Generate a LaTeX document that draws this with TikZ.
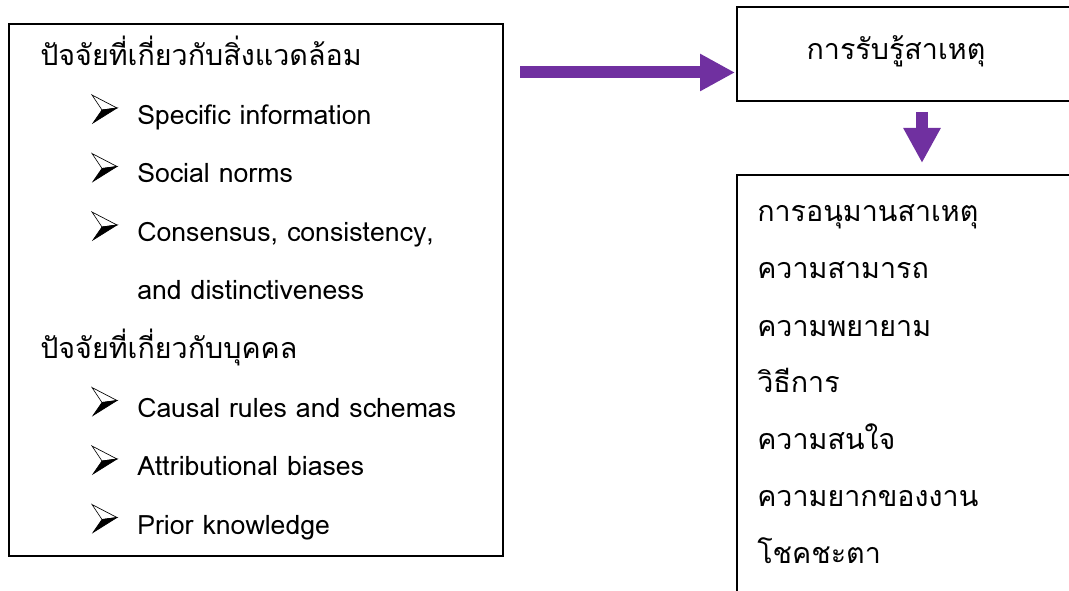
\documentclass[tikz,border=0pt]{standalone}
\usepackage{fontspec}
\setmainfont[Script=Thai]{Loma}
\usetikzlibrary{arrows.meta}
\definecolor{flowpurple}{HTML}{7030A0}
\tikzset{
  frame/.style={draw=black, line width=1.5pt, inner sep=0pt, anchor=north west},
  label/.style={inner sep=0pt, anchor=base west, font=\fontsize{20}{24}\selectfont},
  thai/.style={inner sep=0pt, anchor=base west, font=\fontsize{21.5}{26}\selectfont},
  flow/.style={draw=flowpurple, line width=9pt,
    -{Triangle[length=26.25pt, width=26.25pt]}},
  pics/pointer/.style={code={
    \filldraw[fill=white, draw=black, line width=0.5pt, line join=miter]
      (0,-14) -- (25,-1) -- (10,1) -- cycle;
    \filldraw[fill=black, draw=black, line width=0.5pt, line join=miter]
      (10,1) -- (25,-1) -- (1,14) -- cycle;
  }}
}
\begin{document}
\begin{tikzpicture}[x=0.75pt, y=-0.75pt]
  \useasboundingbox (0,0) rectangle (1069,591);
  \clip (0,0) rectangle (1069,591);

  % boxes
  \node[frame, minimum width=370.875pt, minimum height=399pt] (factors) at (7.5,23) {};
  \node[frame, minimum width=255pt, minimum height=70.5pt] (perception) at (736,6) {};
  \node[frame, minimum width=300pt, minimum height=337.5pt] (inference) at (736,174) {};

  % left box: factors
  \node[thai] (env) at (40,66) {ปัจจัยที่เกี่ยวกับสิ่งแวดล้อม};
  \pic at (92,109) {pointer};
  \node[label] (spec) at (137,124.5) {Specific information};
  \pic at (92,167.5) {pointer};
  \node[label] (norms) at (137,183) {Social norms};
  \pic at (92,226) {pointer};
  \node[label] (cons) at (137,241.5) {Consensus, consistency,};
  \node[label] (dist) at (137,300) {and distinctiveness};
  \node[thai] (pers) at (40,358.5) {ปัจจัยที่เกี่ยวกับบุคคล};
  \pic at (92,401.5) {pointer};
  \node[label] (rules) at (137,417) {Causal rules and schemas};
  \pic at (92,460) {pointer};
  \node[label] (bias) at (137,475.5) {Attributional biases};
  \pic at (92,518.5) {pointer};
  \node[label] (prior) at (137,534) {Prior knowledge};

  % right column
  \node[thai, anchor=base] (percept) at (896,60) {การรับรู้สาเหตุ};
  \node[thai] (i1) at (757,222) {การอนุมานสาเหตุ};
  \node[thai] (i2) at (757,279) {ความสามารถ};
  \node[thai] (i3) at (757,336) {ความพยายาม};
  \node[thai] (i4) at (757,392) {วิธีการ};
  \node[thai] (i5) at (757,449) {ความสนใจ};
  \node[thai] (i6) at (757,506) {ความยากของงาน};
  \node[thai] (i7) at (757,563) {โชคชะตา};

  % connectors
  \coordinate (h0) at (520,72.5);
  \coordinate (h1) at (735,72.5);
  \coordinate (v0) at (922,112);
  \coordinate (v1) at (922,163);
  \draw[flow] (h0) -- (h1);
  \draw[flow] (v0) -- (v1);
\end{tikzpicture}
\end{document}
